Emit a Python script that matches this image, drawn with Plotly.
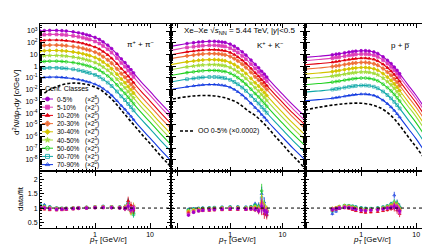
import numpy as np
import plotly.graph_objects as go

W, H = 430, 245
FONT = "Liberation Sans, Arial, sans-serif"

# ---------------- data ----------------
classes = ["0-5%", "5-10%", "10-20%", "20-30%", "30-40%", "40-50%", "50-60%", "60-70%", "70-90%"]
class_pow2 = [8, 7, 6, 5, 4, 3, 2, 1, 0]
colors = ["#a000c8", "#e040b8", "#e00010", "#f07038", "#d4c400", "#a4dc3c", "#20d020", "#10a8a8", "#1038e0"]
symbols = ["circle", "square", "triangle-up", "cross", "diamond", "star",
           "circle-open", "square-open", "triangle-up-open"]

# pions: pT grid, log10 spectrum of 0-5 %, offsets of each class (decades)
pi_pt = [0.1, 0.12, 0.15, 0.2, 0.25, 0.3, 0.4, 0.5, 0.6, 0.7, 0.8, 1.0, 1.2, 1.4, 1.7, 2.0,
         2.5, 3.0, 3.5, 4.0, 4.5, 5.0, 7.0, 10.0, 15.0, 24.0]
pi_log_central = [3.00, 3.03, 3.05, 3.05, 3.03, 3.00, 2.93, 2.85, 2.77, 2.68, 2.61, 2.45, 2.28,
                  2.07, 1.79, 1.50, 1.03, 0.62, 0.30, -0.03, -0.30, -0.57, -1.37, -2.15, -3.07, -4.08]
pi_offset = [0, -0.34, -0.82, -1.25, -1.71, -2.14, -2.62, -3.19, -3.98]
pi_data_range = (0.1, 5.0)

# kaons
k_pt = [0.074, 0.1, 0.15, 0.2, 0.25, 0.3, 0.4, 0.5, 0.6, 0.7, 0.8, 1.0, 1.2, 1.4, 1.7, 2.0,
        2.5, 3.0, 3.5, 4.0, 4.5, 5.0, 7.0, 10.0, 15.8, 27.0]
k_log_central = [1.69, 1.80, 1.93, 2.00, 2.06, 2.09, 2.12, 2.12, 2.10, 2.06, 2.02, 1.88, 1.70,
                 1.50, 1.22, 0.94, 0.52, 0.15, -0.14, -0.44, -0.68, -0.93, -1.65, -2.38, -3.30, -4.30]
k_offset = [0, -0.34, -0.71, -1.05, -1.56, -1.99, -2.48, -3.04, -3.68]
k_data_range = (0.15, 5.0)

# protons
p_pt = [0.095, 0.15, 0.2, 0.3, 0.35, 0.4, 0.5, 0.6, 0.7, 0.8, 1.0, 1.2, 1.4, 1.7, 2.0, 2.5,
        3.0, 3.5, 4.0, 4.5, 5.0, 7.0, 10.0, 15.8, 24.0]
p_log_central = [0.75, 0.83, 0.88, 0.97, 1.02, 1.06, 1.14, 1.20, 1.25, 1.28, 1.32, 1.32, 1.29,
                 1.21, 1.08, 0.80, 0.50, 0.22, -0.08, -0.36, -0.64, -1.55, -2.50, -3.90, -5.25]
p_offset = [0, -0.28, -0.63, -1.00, -1.43, -1.82, -2.33, -2.96, -3.70]
p_data_range = (0.3, 5.0)

# O-O 0-5 % (x 0.0002) reference curves
oo_pi_pt = [0.12, 0.15, 0.2, 0.3, 0.45, 0.6, 0.8, 1.0, 1.3, 1.7, 2.2, 3.0, 4.0, 5.5, 7.5, 10, 14, 20, 24]
oo_pi_log = [-2.3, -2.0, -1.75, -1.5, -1.44, -1.5, -1.62, -1.78, -2.05, -2.5, -3.0, -3.75, -4.45,
             -5.2, -5.95, -6.6, -7.4, -8.2, -8.6]
oo_k_pt = [0.08, 0.1, 0.15, 0.2, 0.3, 0.45, 0.6, 0.8, 1.0, 1.3, 1.7, 2.2, 3.0, 4.0, 5.5, 7.5, 10, 14, 20, 27]
oo_k_log = [-2.8, -2.72, -2.6, -2.54, -2.5, -2.52, -2.58, -2.7, -2.85, -3.05, -3.4, -3.8, -4.2,
            -4.7, -5.35, -6.05, -6.65, -7.4, -8.1, -8.75]
oo_p_pt = [0.095, 0.15, 0.2, 0.3, 0.45, 0.6, 0.8, 1.0, 1.3, 1.7, 2.2, 3.0, 4.0, 5.5, 7.5, 10, 14, 20, 24]
oo_p_log = [-3.75, -3.55, -3.45, -3.32, -3.22, -3.17, -3.15, -3.16, -3.22, -3.35, -3.55, -3.95,
            -4.5, -5.3, -6.15, -6.9, -7.85, -8.8, -9.3]

# data / fit
pi_ratio_pt = [0.1, 0.12, 0.15, 0.2, 0.25, 0.3, 0.4, 0.5, 0.7, 1.0, 1.4, 2.0, 2.8, 3.5, 4.0, 4.5, 5.0]
pi_ratio = [
    [1.02, 1.00, 0.97, 0.95, 0.96, 0.97, 0.98, 0.99, 1.00, 1.01, 1.02, 1.01, 1.00, 0.98, 1.05, 0.95, 0.97],
    [1.03, 1.01, 0.98, 0.96, 0.96, 0.97, 0.98, 1.00, 1.00, 1.02, 1.02, 1.02, 1.01, 1.00, 1.08, 0.93, 1.02],
    [0.96, 0.95, 0.93, 0.92, 0.93, 0.94, 0.96, 0.98, 0.99, 1.01, 1.02, 1.02, 1.00, 0.97, 1.25, 1.10, 0.92],
    [1.04, 1.02, 0.99, 0.97, 0.97, 0.98, 0.99, 1.00, 1.01, 1.02, 1.03, 1.02, 1.01, 1.00, 1.10, 0.90, 1.05],
    [1.05, 1.03, 1.00, 0.98, 0.97, 0.98, 0.99, 1.00, 1.01, 1.03, 1.04, 1.03, 1.02, 1.03, 1.12, 0.88, 1.00],
    [1.07, 1.04, 1.01, 0.98, 0.98, 0.98, 0.99, 1.00, 1.02, 1.03, 1.04, 1.04, 1.02, 1.02, 1.05, 0.85, 1.08],
    [1.08, 1.05, 1.02, 0.99, 0.98, 0.98, 0.99, 1.00, 1.02, 1.04, 1.05, 1.04, 1.03, 1.04, 1.15, 0.90, 0.82],
    [1.10, 1.07, 1.03, 1.00, 0.99, 0.99, 1.00, 1.01, 1.02, 1.04, 1.05, 1.04, 1.03, 1.02, 1.20, 0.92, 0.78],
    [1.15, 1.12, 1.06, 1.01, 0.99, 0.99, 1.00, 1.01, 1.03, 1.05, 1.07, 1.06, 1.04, 1.05, 1.18, 0.95, 0.88],
]
pi_ratio_err = [0.04, 0.03, 0.03, 0.02, 0.02, 0.02, 0.02, 0.02, 0.02, 0.02, 0.03, 0.03, 0.05, 0.08, 0.15, 0.12, 0.12]

k_ratio_pt = [0.16, 0.2, 0.25, 0.3, 0.4, 0.5, 0.7, 1.0, 1.4, 2.0, 2.5, 3.0, 3.5, 4.0, 4.5, 5.0]
k_ratio = [
    [0.75, 0.85, 0.90, 0.92, 0.94, 0.95, 0.96, 0.97, 0.97, 0.96, 0.97, 0.95, 0.90, 1.05, 0.92, 0.85],
    [0.78, 0.86, 0.91, 0.93, 0.95, 0.96, 0.97, 0.98, 0.98, 0.97, 0.98, 0.97, 0.93, 1.10, 0.90, 0.88],
    [0.82, 0.88, 0.89, 0.90, 0.91, 0.92, 0.93, 0.94, 0.94, 0.94, 0.95, 0.93, 0.88, 1.00, 0.80, 0.75],
    [0.85, 0.90, 0.93, 0.95, 0.96, 0.97, 0.98, 0.99, 0.99, 0.98, 1.00, 0.99, 0.95, 1.15, 0.95, 0.90],
    [0.88, 0.92, 0.95, 0.96, 0.97, 0.98, 0.99, 1.00, 1.00, 0.99, 1.01, 1.02, 0.98, 1.20, 1.00, 0.92],
    [0.90, 0.94, 0.96, 0.97, 0.98, 0.99, 1.00, 1.01, 1.01, 1.00, 1.02, 1.04, 1.00, 1.25, 1.05, 0.95],
    [0.92, 0.95, 0.97, 0.98, 0.99, 1.00, 1.01, 1.02, 1.02, 1.01, 1.03, 1.08, 1.05, 1.60, 1.10, 0.90],
    [0.94, 0.97, 0.98, 0.99, 1.00, 1.01, 1.02, 1.03, 1.03, 1.02, 1.04, 1.10, 1.00, 1.35, 0.95, 0.88],
    [0.96, 0.99, 1.00, 1.01, 1.02, 1.03, 1.04, 1.05, 1.05, 1.04, 1.06, 1.15, 1.10, 1.50, 1.20, 0.80],
]
k_ratio_err = [0.05, 0.04, 0.03, 0.03, 0.03, 0.03, 0.03, 0.03, 0.03, 0.04, 0.05, 0.07, 0.10, 0.25, 0.18, 0.15]

p_ratio_pt = [0.3, 0.35, 0.4, 0.5, 0.6, 0.7, 0.8, 1.0, 1.2, 1.5, 2.0, 2.5, 3.0, 3.5, 4.0, 4.5, 5.0]
p_ratio = [
    [0.95, 0.97, 1.00, 1.02, 1.01, 0.98, 0.95, 0.92, 0.91, 0.93, 0.95, 0.97, 1.00, 1.02, 1.05, 1.00, 0.90],
    [0.96, 0.98, 1.01, 1.03, 1.02, 0.99, 0.96, 0.93, 0.91, 0.92, 0.94, 0.96, 0.99, 1.03, 1.08, 1.02, 0.85],
    [0.92, 0.95, 0.98, 1.00, 0.98, 0.94, 0.90, 0.86, 0.84, 0.85, 0.87, 0.90, 0.93, 0.97, 1.00, 0.92, 0.80],
    [0.97, 0.99, 1.02, 1.04, 1.03, 1.00, 0.97, 0.94, 0.92, 0.93, 0.95, 0.98, 1.02, 1.05, 1.10, 1.05, 0.92],
    [0.98, 1.00, 1.04, 1.06, 1.05, 1.02, 0.99, 0.96, 0.94, 0.94, 0.96, 0.99, 1.03, 1.07, 1.12, 1.08, 0.95],
    [0.98, 1.01, 1.05, 1.08, 1.06, 1.03, 1.00, 0.97, 0.95, 0.95, 0.97, 1.00, 1.05, 1.10, 1.15, 1.10, 0.98],
    [0.96, 1.00, 1.05, 1.09, 1.08, 1.05, 1.02, 0.99, 0.97, 0.97, 0.99, 1.02, 1.06, 1.12, 1.18, 1.15, 1.00],
    [0.90, 0.96, 1.03, 1.08, 1.08, 1.06, 1.03, 1.00, 0.98, 0.98, 1.00, 1.03, 1.07, 1.13, 1.20, 1.12, 1.02],
    [0.80, 0.88, 0.98, 1.05, 1.08, 1.07, 1.05, 1.02, 1.00, 0.99, 1.01, 1.04, 1.08, 1.15, 1.45, 1.18, 1.05],
]
p_ratio_err = [0.06, 0.05, 0.04, 0.03, 0.03, 0.03, 0.03, 0.03, 0.03, 0.03, 0.03, 0.04, 0.05, 0.07, 0.12, 0.12, 0.12]

species = [
    dict(pt=pi_pt, logc=pi_log_central, off=pi_offset, rng=pi_data_range,
         oo_pt=oo_pi_pt, oo_log=oo_pi_log, r_pt=pi_ratio_pt, r=pi_ratio, r_err=pi_ratio_err),
    dict(pt=k_pt, logc=k_log_central, off=k_offset, rng=k_data_range,
         oo_pt=oo_k_pt, oo_log=oo_k_log, r_pt=k_ratio_pt, r=k_ratio, r_err=k_ratio_err),
    dict(pt=p_pt, logc=p_log_central, off=p_offset, rng=p_data_range,
         oo_pt=oo_p_pt, oo_log=oo_p_log, r_pt=p_ratio_pt, r=p_ratio, r_err=p_ratio_err),
]

# ---------------- layout geometry (pixels) ----------------
panel_px = [(32, 163), (163, 297), (297, 428)]
x_ranges = [[-1.0, 1.38], [-1.13, 1.43], [-1.02, 1.36]]
top_px = (16, 163)
rat_px = (163, 220)


def fx(x):
    return x / W


def fy(y):
    return 1 - y / H


fig = go.Figure()

for j, sp in enumerate(species):
    xt, yt = ("x" if j == 0 else f"x{j+1}"), ("y" if j == 0 else f"y{j+1}")
    xr, yr = f"x{j+4}", f"y{j+4}"
    pt = np.array(sp["pt"])
    logc = np.array(sp["logc"])
    mask = (pt >= sp["rng"][0] - 1e-9) & (pt <= sp["rng"][1] + 1e-9)
    for i in reversed(range(len(classes))):
        yv = 10 ** (logc + sp["off"][i])
        fig.add_trace(go.Scatter(x=pt, y=yv, mode="lines", line=dict(color=colors[i], width=1.1, shape="spline"),
                                 xaxis=xt, yaxis=yt, showlegend=False, hoverinfo="skip"))
        fig.add_trace(go.Scatter(x=pt[mask], y=yv[mask], mode="markers",
                                 marker=dict(color=colors[i], symbol=symbols[i], size=2.8,
                                             line=dict(color=colors[i], width=0.7)),
                                 xaxis=xt, yaxis=yt, showlegend=False, hoverinfo="skip"))
    fig.add_trace(go.Scatter(x=sp["oo_pt"], y=10 ** np.array(sp["oo_log"]), mode="lines",
                             line=dict(color="black", width=1.6, dash="3px,2px", shape="spline"),
                             xaxis=xt, yaxis=yt, showlegend=False, hoverinfo="skip"))
    for i in reversed(range(len(classes))):
        fig.add_trace(go.Scatter(x=sp["r_pt"], y=sp["r"][i], mode="markers",
                                 marker=dict(color=colors[i], symbol=symbols[i], size=2.6,
                                             line=dict(color=colors[i], width=0.7)),
                                 error_y=dict(type="data", array=sp["r_err"], thickness=0.8, width=0,
                                              color=colors[i]),
                                 xaxis=xr, yaxis=yr, showlegend=False, hoverinfo="skip"))

# manual legend drawn in a pixel-space overlay axis
leg_y0, leg_dy = 91.0, 8.2
for i in range(len(classes)):
    yy = leg_y0 + i * leg_dy
    fig.add_trace(go.Scatter(x=[34, 45], y=[yy, yy], mode="lines", line=dict(color=colors[i], width=1),
                             xaxis="x7", yaxis="y7", showlegend=False, hoverinfo="skip"))
    fig.add_trace(go.Scatter(x=[39.5], y=[yy], mode="markers",
                             marker=dict(color=colors[i], symbol=symbols[i], size=4,
                                         line=dict(color=colors[i], width=0.8)),
                             xaxis="x7", yaxis="y7", showlegend=False, hoverinfo="skip"))
fig.add_trace(go.Scatter(x=[172, 185], y=[123, 123], mode="lines",
                         line=dict(color="black", width=1.6, dash="3px,2px"),
                         xaxis="x7", yaxis="y7", showlegend=False, hoverinfo="skip"))

axis_common = dict(showline=True, linecolor="black", linewidth=1, mirror="allticks", ticks="inside",
                   tickcolor="black", ticklen=4, showgrid=False, zeroline=False,
                   tickfont=dict(size=7, color="black", family=FONT))
minor_log = dict(ticks="inside", ticklen=2, tickcolor="black", dtick="D1", showgrid=False)

layout_axes = {}
dec = list(range(-8, 4))
ytxt = {3: "10<sup>3</sup>", 2: "10<sup>2</sup>", 1: "10", 0: "1"}
for j in range(3):
    dom = [fx(panel_px[j][0]), fx(panel_px[j][1])]
    sx = "" if j == 0 else str(j + 1)
    layout_axes[f"xaxis{sx}"] = dict(axis_common, domain=dom, type="log", range=x_ranges[j],
                                     anchor=f"y{sx}", tickvals=[0.1, 1, 10], showticklabels=False,
                                     minor=minor_log)
    layout_axes[f"yaxis{sx}"] = dict(axis_common, domain=[fy(top_px[1]), fy(top_px[0])], type="log",
                                     range=[-8.94, 3.6], anchor=f"x{sx}",
                                     tickvals=[10.0 ** d for d in dec],
                                     ticktext=[ytxt.get(d, f"10<sup>{d}</sup>") for d in dec],
                                     showticklabels=(j == 0), minor=minor_log, ticklen=5)
    layout_axes[f"xaxis{j+4}"] = dict(axis_common, domain=dom, type="log", range=x_ranges[j],
                                      anchor=f"y{j+4}", tickvals=[0.1, 1, 10], ticktext=["", "1", "10"],
                                      minor=minor_log, ticklen=5)
    layout_axes[f"yaxis{j+4}"] = dict(axis_common, domain=[fy(rat_px[1]), fy(rat_px[0])],
                                      range=[0.3, 2.3], anchor=f"x{j+4}",
                                      tickvals=[0.5, 1, 1.5, 2], ticktext=["0.5", "1", "1.5", "2"],
                                      showticklabels=(j == 0),
                                      minor=dict(ticks="inside", ticklen=2, tickcolor="black", dtick=0.1))
layout_axes["xaxis7"] = dict(domain=[0, 1], range=[0, W], visible=False, anchor="y7", fixedrange=True)
layout_axes["yaxis7"] = dict(domain=[0, 1], range=[H, 0], visible=False, anchor="x7", fixedrange=True)

shapes = []
for j in range(3):
    shapes.append(dict(type="line", xref=f"x{j+4} domain", yref=f"y{j+4}", x0=0, x1=1, y0=1, y1=1,
                       line=dict(color="black", width=1, dash="dot")))


def note(text, x, y, size=8, xanchor="center", angle=0):
    return dict(text=text, x=fx(x), y=fy(y), xref="paper", yref="paper", showarrow=False,
                xanchor=xanchor, yanchor="middle", textangle=angle,
                font=dict(size=size, color="black", family=FONT))


annotations = [
    note("d<sup>2</sup><i>N</i>/d<i>p</i><sub>T</sub>d<i>y</i> [<i>c</i>/GeV]", 8, 95, 8, angle=-90),
    note("data/fit", 12, 191, 8, angle=-90),
    note("π<sup>+</sup> + π<sup>−</sup>", 132, 36, 8),
    note("Xe–Xe √<i>s</i><sub>NN</sub> = 5.44 TeV, |<i>y</i>|&lt;0.5", 232, 23, 8),
    note("K<sup>+</sup> + K<sup>−</sup>", 262, 37, 8),
    note("p + p\u0305", 392, 38, 8),
    note("Cent. Classes", 35, 81, 7, xanchor="left"),
    note("OO 0-5% (×0.0002)", 188, 123, 7, xanchor="left"),
]
for j, cx in enumerate([100, 229, 364]):
    annotations.append(note("<i>p</i><sub>T</sub> [GeV/<i>c</i>]", cx, 232, 8))
for i, c in enumerate(classes):
    yy = leg_y0 + i * leg_dy
    annotations.append(note(c, 47, yy, 6.5, xanchor="left"))
    annotations.append(note(f"(×2<sup>{class_pow2[i]}</sup>)", 75, yy, 6.5, xanchor="left"))

fig.update_layout(width=W, height=H, autosize=False, margin=dict(l=0, r=0, t=0, b=0),
                  paper_bgcolor="white", plot_bgcolor="rgba(0,0,0,0)",
                  font=dict(family=FONT, size=7, color="black"),
                  showlegend=False, shapes=shapes, annotations=annotations, **layout_axes)

fig.write_html("out.html")
